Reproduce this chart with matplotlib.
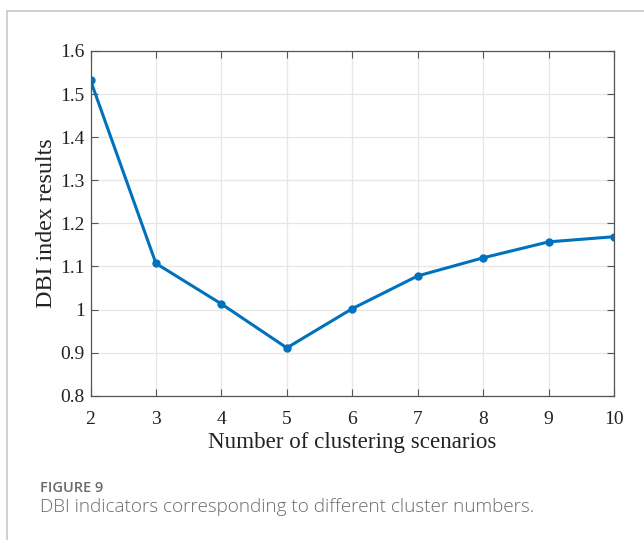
import matplotlib
matplotlib.use("Agg")
import matplotlib.pyplot as plt
from matplotlib.lines import Line2D

# DBI index for each number of clusters
clusters = [2, 3, 4, 5, 6, 7, 8, 9, 10]
dbi = [1.532, 1.107, 1.013, 0.911, 1.002, 1.078, 1.120, 1.157, 1.169]
yticks = [0.8, 0.9, 1.0, 1.1, 1.2, 1.3, 1.4, 1.5, 1.6]
ytick_labels = ["0.8", "0.9", "1", "1.1", "1.2", "1.3", "1.4", "1.5", "1.6"]

W, H = 644, 540
fig = plt.figure(figsize=(W / 100, H / 100), dpi=100)
fig.patch.set_facecolor("white")

# card border (top and left edges)
fig.add_artist(Line2D([7 / W, 1.0], [1 - 11 / H, 1 - 11 / H], color="#c8c8c8", lw=1.2))
fig.add_artist(Line2D([7 / W, 7 / W], [0, 1 - 11 / H], color="#c8c8c8", lw=1.2))

left, right, top, bottom = 90.5, 614, 51, 395.7
ax = fig.add_axes([left / W, 1 - bottom / H, (right - left) / W, (bottom - top) / H])

serif = "Liberation Serif"
ax.plot(clusters, dbi, color="#0072BD", lw=2.2, marker="o", ms=5)

ax.set_xlim(2, 10)
ax.set_ylim(0.8, 1.6)
ax.set_xticks(clusters)
ax.set_yticks(yticks)
ax.set_yticklabels(ytick_labels)
ax.grid(True, color="#e6e6e6", lw=0.9)
ax.set_axisbelow(True)
ax.tick_params(direction="in", top=True, right=True, length=5, width=0.8,
               color="#555555", labelsize=14)
ax.tick_params(axis="y", pad=4)
ax.tick_params(axis="x", pad=11)
for lab in ax.get_xticklabels() + ax.get_yticklabels():
    lab.set_fontfamily(serif)
    lab.set_color("#222222")
for sp in ax.spines.values():
    sp.set_color("#555555")
    sp.set_linewidth(0.9)

ax.set_xlabel("Number of clustering scenarios", fontfamily=serif, fontsize=16.6,
              color="#222222", labelpad=3)
ax.set_ylabel("DBI index results", fontfamily=serif, fontsize=17.3,
              color="#222222", labelpad=2.5)

fig.text(40 / W, 1 - 488 / H, "FIGURE 9", fontfamily="Open Sans", fontsize=10.5,
         color="#6b6b6b", fontweight="semibold", va="center", ha="left")
fig.text(40 / W, 1 - 507 / H, "DBI indicators corresponding to different cluster numbers.",
         fontfamily="Open Sans", fontsize=13.55, fontweight="light",
         color="#6b6b6b", va="center", ha="left")

fig.savefig("out.png", dpi=100, facecolor="white")
